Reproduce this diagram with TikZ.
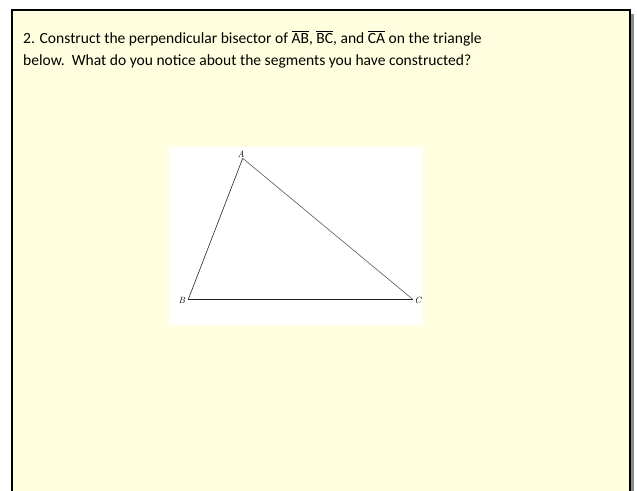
\documentclass[tikz,border=0pt]{standalone}
\usepackage{fontspec}
\setmainfont{Carlito}
\newfontfamily\lmfont{Latin Modern Roman}
\newcommand{\myovl}[1]{\leavevmode\vbox{\hrule height 0.7pt\kern1.2pt\hbox{#1}}}
\definecolor{paper}{RGB}{255,255,224}
\begin{document}
\begin{tikzpicture}[x=1pt,y=-1pt,
  vlabel/.style={font=\lmfont\itshape\fontsize{9}{10}\selectfont, inner sep=0pt},
  side/.style={line width=0.6pt, draw=black!85}]
\useasboundingbox (0,0) rectangle (637,490);
\fill[white] (0,0) rectangle (637,490);
% shadow
\fill[black!45] (15,14) rectangle (634,495);
% box
\fill[paper] (12,10) rectangle (630,495);
\draw[line width=1.6pt] (12,495) -- (12,10) -- (630,10) -- (630,495);
% text
\node[anchor=base west, inner sep=0pt, font=\fontsize{15.55}{22}\selectfont] (l1) at (23,43)
  {2. Construct the perpendicular bisector of \myovl{AB}, \myovl{BC}, and \myovl{CA} on the triangle};
\node[anchor=base west, inner sep=0pt, font=\fontsize{15.55}{22}\selectfont] (l2) at (23,65)
  {below.\ \ What do you notice about the segments you have constructed?};
% figure panel
\fill[white] (169,147) rectangle (423,325);
\coordinate (A) at (242.7,158.3);
\coordinate (B) at (188.3,299.3);
\coordinate (C) at (412.7,299.3);
\draw[side] (A) -- (B);
\draw[side, draw=black!65] (A) -- (C);
\draw[side] (B) -- (C);
\node[vlabel] (la) at (241,154) {A};
\node[vlabel] (lb) at (182,300) {B};
\node[vlabel] (lc) at (418,300) {C};
\end{tikzpicture}
\end{document}
